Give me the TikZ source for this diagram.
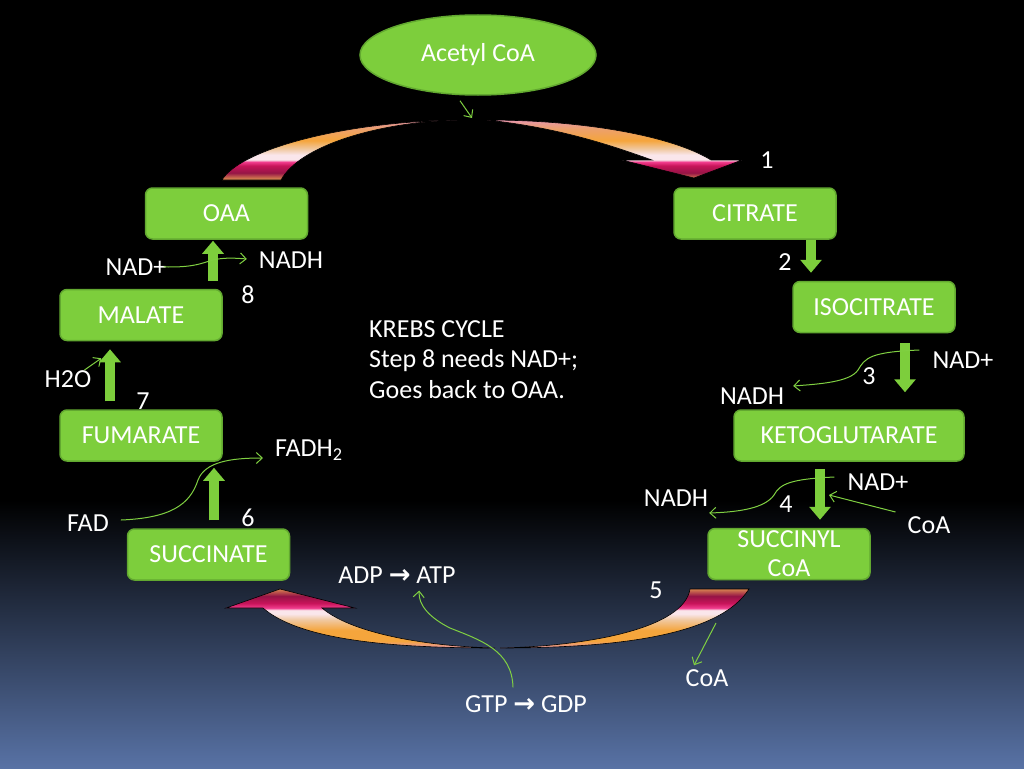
\documentclass[tikz,border=0pt]{standalone}
\usepackage{fontspec}
\setmainfont{Carlito}
\newfontfamily\symfont{DejaVu Sans}
\usetikzlibrary{arrows.meta,shapes.geometric}
\definecolor{boxgreen}{RGB}{125,206,60}
\definecolor{boxedge}{RGB}{98,168,48}
\definecolor{lime}{RGB}{128,208,66}
\definecolor{bgblue}{RGB}{88,114,165}
\definecolor{arcpink}{RGB}{230,150,170}
\definecolor{arcpo}{RGB}{236,160,110}
\definecolor{arcorange}{RGB}{245,165,60}
\definecolor{arctan}{RGB}{240,200,160}
\definecolor{arcwhite}{RGB}{250,230,235}
\definecolor{arcbright}{RGB}{240,60,140}
\definecolor{arcmag}{RGB}{200,20,90}
\definecolor{arcdark}{RGB}{150,20,70}
\definecolor{arcbrown}{RGB}{215,130,80}
\pgfdeclareverticalshading{toparc}{100bp}{color(0bp)=(arcbrown); color(26bp)=(arcbrown); color(31bp)=(arcdark); color(37bp)=(arcmag); color(40bp)=(arcbright); color(42bp)=(arcwhite); color(46bp)=(arcwhite); color(51bp)=(arctan); color(58bp)=(arcorange); color(68bp)=(arcpo); color(75bp)=(arcpink); color(100bp)=(arcpink)}
\pgfdeclareverticalshading{botarc}{100bp}{color(0bp)=(arcpink); color(25bp)=(arcpink); color(31bp)=(arcorange); color(40bp)=(arcorange); color(49bp)=(arctan); color(54bp)=(arcwhite); color(57bp)=(arcwhite); color(59bp)=(arcbright); color(63bp)=(arcmag); color(69bp)=(arcdark); color(75bp)=(arcbrown); color(100bp)=(arcbrown)}
\newcommand\fsz{\fontsize{26}{30}\selectfont}
\tikzset{
  box/.style={rectangle, rounded corners=7pt, fill=boxgreen, draw=boxedge, line width=1.5pt,
    text=white, minimum height=51pt, minimum width=162pt, font=\fsz, inner sep=0pt},
  lbl/.style={text=white, font=\fsz, inner sep=0pt},
  fat/.style={draw=boxgreen, line width=10pt, -{Triangle[width=21pt,length=13pt]}},
  lite/.style={draw=lime, line width=1pt, -{Straight Barb[length=6pt,width=11pt]}},
  arcband/.style={shade, draw=black, line width=0.6pt},
}
\begin{document}
\begin{tikzpicture}[x=1pt,y=-1pt]
\useasboundingbox (0,0) rectangle (1024,768);
\fill[black] (0,0) rectangle (1024,768);
\shade[top color=black, bottom color=bgblue] (0,500) rectangle (1024,768);

% big curved arrows
\path[arcband, shading=toparc]
  (222,180) .. controls (240,150) and (340,122) .. (457,120)
  .. controls (380,122) and (300,145) .. (281,180) -- cycle
  (487,120) .. controls (580,120) and (670,135) .. (711,160)
  -- (742,160) -- (694,178) -- (622,160) -- (652,160)
  .. controls (610,145) and (560,128) .. (487,120) -- cycle;
\path[arcband, shading=botarc]
  (280,589) -- (355,608) -- (322,608)
  .. controls (350,632) and (420,646) .. (495,648)
  .. controls (390,648) and (300,640) .. (263,608) -- (226,608) -- cycle
  (500,648) .. controls (620,648) and (720,635) .. (749,589)
  -- (690,589) .. controls (684,628) and (590,646) .. (500,648) -- cycle;

% nodes
\node[ellipse, fill=boxgreen, draw=boxedge, line width=1.5pt, minimum width=236pt, minimum height=80pt,
  text=white, font=\fsz, inner sep=0pt] (acetyl) at (478,55) {Acetyl CoA};
\node[box] (oaa) at (226.5,213.5) {OAA};
\node[box] (citrate) at (755,213.5) {CITRATE};
\node[box] (iso) at (874,307) {ISOCITRATE};
\node[box, minimum width=230pt] (keto) at (849,435.5) {KETOGLUTARATE};
\node[box, align=center, font=\fontsize{26}{29}\selectfont] (succ) at (789,554) {SUCCINYL\\CoA};
\node[box] (succinate) at (208.5,554.5) {SUCCINATE};
\node[box] (fumarate) at (141,435.5) {FUMARATE};
\node[box] (malate) at (141,315) {MALATE};

% thick arrows
\draw[fat, shorten >=8pt] (citrate.south -| 811,0) -- (iso.north -| 811,0);
\draw[fat, shorten <=10pt, shorten >=17pt] (iso.south -| 905,0) -- (keto.north -| 905,0);
\draw[fat, shorten <=7pt, shorten >=8pt] (keto.south -| 820,0) -- (succ.north -| 820,0);
\draw[fat, shorten <=8pt, shorten >=6pt] (succinate.north -| 214,0) -- (fumarate.south -| 214,0);
\draw[fat, shorten <=8pt, shorten >=8pt] (fumarate.north -| 110,0) -- (malate.south -| 110,0);
\draw[fat, shorten <=8pt, shorten >=1pt] (malate.north -| 213,0) -- (oaa.south -| 213,0);

% step numbers
\node[lbl] (n1) at (767,160) {1};
\node[lbl] (n2) at (785,262) {2};
\node[lbl] (n3) at (869,376) {3};
\node[lbl] (n4) at (786,504) {4};
\node[lbl] (n5) at (656,590) {5};
\node[lbl] (n6) at (248,518) {6};
\node[lbl] (n7) at (143,401) {7};
\node[lbl] (n8) at (248,295) {8};

% side labels
\node[lbl] (nad8) at (136,267) {NAD+};
\node[lbl] (nadh8) at (291,260) {NADH};
\node[lbl] (h2o) at (68,379) {H2O};
\node[lbl, anchor=west] (fadh2) at (275,450) {FADH\textsubscript{2}};
\node[lbl] (fad) at (88,523) {FAD};
\node[lbl] (nad3) at (963,360) {NAD+};
\node[lbl] (nadh3) at (752,396) {NADH};
\node[lbl] (nad4) at (878,482) {NAD+};
\node[lbl] (nadh4) at (676,498) {NADH};
\node[lbl] (coa4) at (929,525) {CoA};
\node[lbl] (adp) at (397,575) {ADP {\symfont\bfseries →} ATP};
\node[lbl] (gtp) at (526,704) {GTP {\symfont\bfseries →} GDP};
\node[lbl] (coa5) at (707,678) {CoA};
\node[lbl, align=left, anchor=north west, font=\fontsize{26}{30.5}\selectfont] (krebs) at (369,320)
  {KREBS CYCLE\\Step 8 needs NAD+;\\Goes back to OAA.};

% thin connectors
\coordinate (acin) at (472,118);
\draw[lite] ([shift={(-18,5)}]acetyl.south) -- (acin);
\draw[lite, shorten <=-3pt, shorten >=12pt] (nad8.east) .. controls (215,268) and (200,255) .. (nadh8.west);
\draw[lite] ([shift={(-7,-9)}]h2o.east) -- ([shift={(42,17)}]malate.south west);
\draw[lite] ([shift={(12,-3)}]fad.east) .. controls (170,518) and (190,505) .. (198,480)
  .. controls (205,462) and (230,458) .. ([shift={(-12,8)}]fadh2.west);
\draw[lite] ([shift={(-13,-10)}]nad3.west) .. controls (870,352) and (865,358) .. (858,370)
  .. controls (850,382) and (820,384) .. ([shift={(9,-10)}]nadh3.east);
\draw[lite] ([shift={(-13,-5)}]nad4.west) .. controls (790,479) and (780,484) .. (774,495)
  .. controls (765,508) and (740,512) .. ([shift={(1,15)}]nadh4.east);
\draw[lite] ([shift={(-12,-13)}]coa4.west) -- (829,495);
\draw[lite] ([shift={(-13,-8)}]gtp.north) .. controls (512,650) and (480,640) .. (450,628)
  .. controls (430,618) and (418,605) .. ([shift={(81,7)}]adp.south west);
\coordinate (coaout) at (716,623);
\draw[lite] (coaout) -- ([shift={(-13,-4)}]coa5.north);
\end{tikzpicture}
\end{document}
